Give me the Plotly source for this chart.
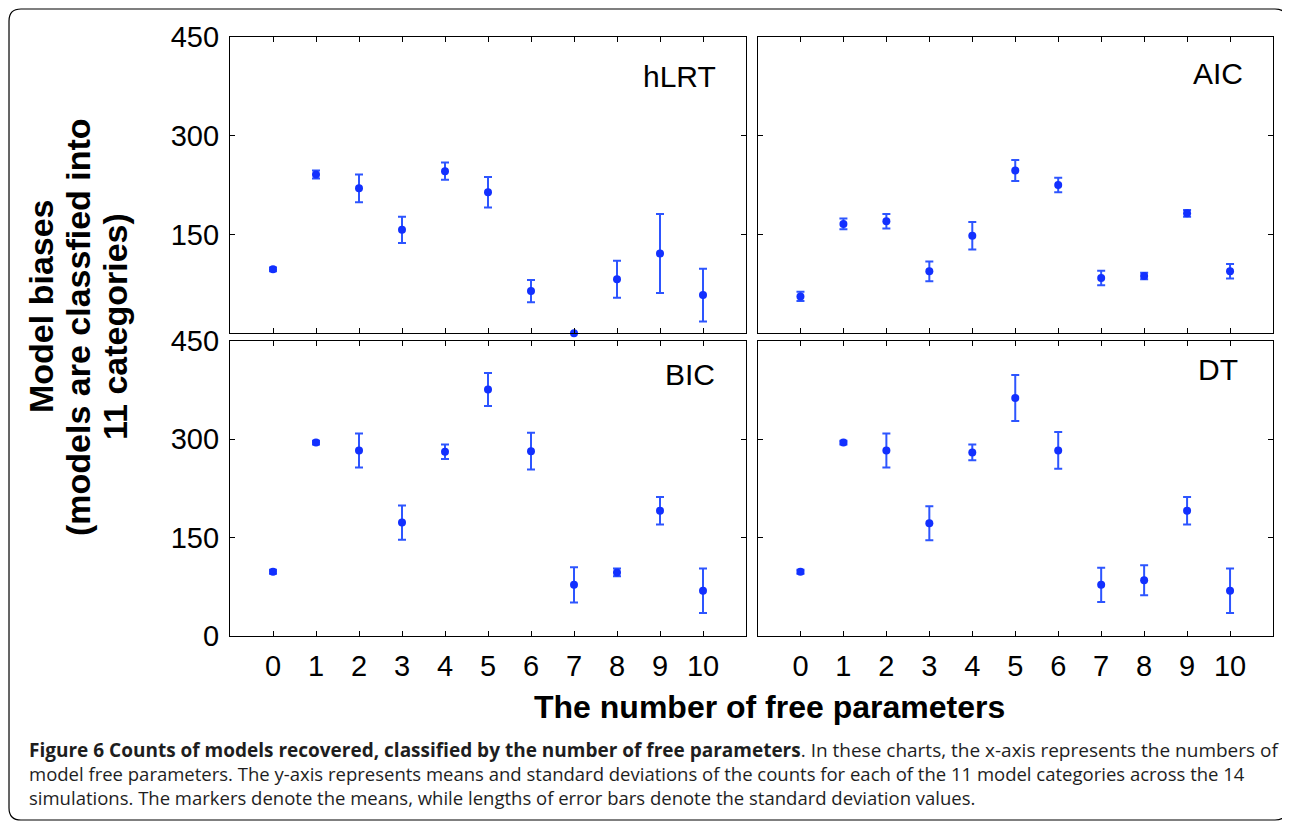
import plotly.graph_objects as go

W, H = 1290, 823
OFF = 8  # page body margin

categories = list(range(11))
tick_labels = [str(c) for c in categories]
y_ticks = [0, 150, 300, 450]

hlrt_mean = [97, 241, 220, 157, 246, 214, 64, 0, 82, 121, 58]
hlrt_sd = [3, 6, 21, 20, 13, 23, 17, 0, 28, 60, 40]
aic_mean = [56, 166, 170, 94, 148, 247, 225, 84, 87, 182, 94]
aic_sd = [7, 8, 11, 15, 21, 16, 11, 11, 5, 5, 11]
bic_mean = [98, 295, 283, 173, 281, 376, 282, 78, 97, 191, 69]
bic_sd = [3, 3, 26, 26, 11, 25, 28, 27, 6, 21, 34]
dt_mean = [98, 295, 283, 172, 280, 363, 283, 78, 85, 191, 69]
dt_sd = [3, 3, 26, 26, 12, 35, 28, 26, 23, 21, 34]

panel_names = ["hLRT", "AIC", "BIC", "DT"]
means = [hlrt_mean, aic_mean, bic_mean, dt_mean]
sds = [hlrt_sd, aic_sd, bic_sd, dt_sd]

def px_x(p):
    return (p - OFF) / W

def px_y(p):
    return 1 - (p - OFF) / H

col_x = [(230, 746), (757.5, 1273)]
row_y = [(36.7, 333.3), (341, 636)]

MARK = "rgb(18,48,255)"
ERR = "rgb(45,85,255)"
FONT = "Liberation Sans, Arial, sans-serif"

fig = go.Figure()
layout = {}
for i, name in enumerate(panel_names):
    r, c = divmod(i, 2)
    ax = "" if i == 0 else str(i + 1)
    fig.add_trace(go.Scatter(
        x=categories, y=means[i], mode="markers",
        marker=dict(color=MARK, size=8),
        error_y=dict(type="data", array=sds[i], visible=True, color=ERR,
                     thickness=2, width=4),
        cliponaxis=False, showlegend=False,
        xaxis="x" + ax, yaxis="y" + ax,
    ))
    xl, xr = col_x[c]
    yt, yb = row_y[r]
    common = dict(showline=True, linecolor="black", linewidth=1.3, mirror="ticks",
                  ticks="inside", ticklen=5, tickwidth=1, tickcolor="black",
                  showgrid=False, zeroline=False, fixedrange=True,
                  tickfont=dict(family=FONT, size=29, color="black"))
    layout["xaxis" + ax] = dict(common, domain=[px_x(xl), px_x(xr)], range=[-1, 11],
                                anchor="y" + ax, tickvals=categories, ticktext=tick_labels,
                                showticklabels=(r == 1), ticklabelstandoff=4)
    ytext = ["", "150", "300", "450"] if r == 0 else ["0", "150", "300", "450"]
    layout["yaxis" + ax] = dict(common, domain=[px_y(yb), px_y(yt)], range=[0, 450],
                                anchor="x" + ax, tickvals=y_ticks, ticktext=ytext,
                                showticklabels=(c == 0), ticklabelstandoff=4)

annotations = []
label_pos = [(718, 76.5), (1245, 73.3), (717, 374.3), (1240, 369.3)]
for name, (lx, ly) in zip(panel_names, label_pos):
    annotations.append(dict(text=name, x=px_x(lx), y=px_y(ly), xref="paper", yref="paper",
                            xanchor="right", yanchor="middle", showarrow=False,
                            font=dict(family=FONT, size=30, color="black")))

ytitle_lines = ["Model biases", "(models are classfied into", "11 categories)"]
ytitle_pos = [(41, 306), (78, 327), (115, 327)]
for line, (lx, ly) in zip(ytitle_lines, ytitle_pos):
    annotations.append(dict(text="<b>" + line + "</b>", x=px_x(lx), y=px_y(ly),
                            xref="paper", yref="paper", xanchor="center", yanchor="middle",
                            textangle=-90, showarrow=False,
                            font=dict(family=FONT, size=34, color="black")))

annotations.append(dict(text="<b>The number of free parameters</b>", x=px_x(769), y=px_y(707),
                        xref="paper", yref="paper", xanchor="center", yanchor="middle",
                        showarrow=False, font=dict(family=FONT, size=32, color="black")))

caption_lines = [
    "<span style=\"font-size:19px\"><b>Figure 6 Counts of models recovered, classified by the"
    " number of free parameters</b>. In these charts, the x-axis represents the numbers of</span>",
    "model free parameters. The y-axis represents means and standard deviations of the counts"
    " for each of the 11 model categories across the 14",
    "simulations. The markers denote the means, while lengths of error bars denote the"
    " standard deviation values.",
]
annotations.append(dict(text="<br>".join(caption_lines), x=px_x(27), y=px_y(773),
                        xref="paper", yref="paper", xanchor="left", yanchor="middle",
                        align="left", showarrow=False,
                        font=dict(family="Open Sans, sans-serif", size=18.5,
                                  color="rgb(30,30,30)")))

x0, x1, y0, y1, rad = 9, 1287, 9, 820, 12
def P(x, y):
    return f"{px_x(x):.5f},{px_y(y):.5f}"
path = (f"M {P(x0 + rad, y0)} L {P(x1 - rad, y0)} Q {P(x1, y0)} {P(x1, y0 + rad)} "
        f"L {P(x1, y1 - rad)} Q {P(x1, y1)} {P(x1 - rad, y1)} "
        f"L {P(x0 + rad, y1)} Q {P(x0, y1)} {P(x0, y1 - rad)} "
        f"L {P(x0, y0 + rad)} Q {P(x0, y0)} {P(x0 + rad, y0)} Z")
shapes = [dict(type="path", path=path, xref="paper", yref="paper",
               line=dict(color="black", width=1.2), fillcolor="rgba(0,0,0,0)")]

fig.update_layout(**layout)
fig.update_layout(width=W, height=H, margin=dict(l=0, r=0, t=0, b=0, autoexpand=False),
                  paper_bgcolor="white", plot_bgcolor="white",
                  annotations=annotations, shapes=shapes, showlegend=False)

fig.write_html("out.html")
